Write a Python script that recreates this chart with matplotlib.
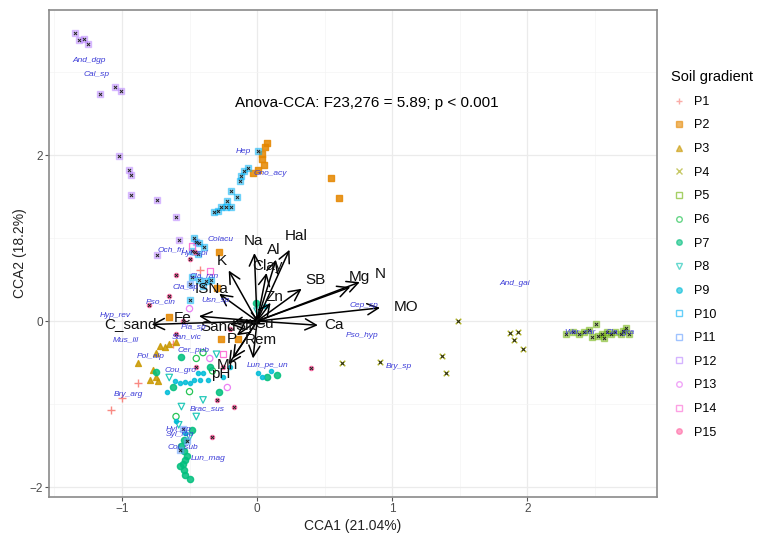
import matplotlib
matplotlib.use("Agg")
import matplotlib.pyplot as plt
from matplotlib.lines import Line2D

plt.rcParams["font.family"] = ["Liberation Sans", "DejaVu Sans"]

GROUPS = ["P1", "P2", "P3", "P4", "P5", "P6", "P7", "P8", "P9", "P10",
          "P11", "P12", "P13", "P14", "P15"]
COLORS = ["#F8766D", "#E58700", "#C99800", "#A3A500", "#6BB100", "#00BA38",
          "#00BF7D", "#00C0AF", "#00BCD8", "#00B0F6", "#619CFF", "#B983FF",
          "#E76BF3", "#FD61D1", "#FF67A4"]

# site scores (CCA1, CCA2) per soil gradient group
P1_x = [-1.08, -1.00, -0.88, -0.62, -0.42]
P1_y = [-1.07, -0.93, -0.75, -0.28, 0.62]
P2_x = [0.07, 0.06, 0.04, 0.04, 0.05, 0.01, -0.03, 0.55, 0.61, -0.30, -0.27, -0.14, -0.65, -0.28]
P2_y = [2.15, 2.10, 2.02, 1.95, 1.88, 1.82, 1.78, 1.72, 1.48, 0.40, -0.22, -0.22, 0.05, 0.83]
P3_x = [-0.68, -0.65, -0.75, -0.88, -0.77, -0.75, -0.73, -0.79, -0.72, -0.60]
P3_y = [-0.31, -0.28, -0.38, -0.50, -0.59, -0.67, -0.72, -0.71, -0.30, -0.25]
P4_x = [0.63, 0.91, 1.49, 1.37, 1.40, 1.87, 1.93, 1.90, 1.97]
P4_y = [-0.50, -0.49, 0.00, -0.42, -0.62, -0.14, -0.13, -0.23, -0.34]
P5_x = [2.29, 2.34, 2.46, 2.51, 2.48, 2.52, 2.55, 2.59, 2.57, 2.65, 2.69, 2.73,
        2.75, 2.71, 2.62, 2.42, 2.38]
P5_y = [-0.15, -0.13, -0.11, -0.04, -0.19, -0.18, -0.16, -0.13, -0.20, -0.13,
        -0.15, -0.08, -0.15, -0.12, -0.15, -0.13, -0.16]
P6_x = [-0.45, -0.40, -0.33, -0.50, -0.60]
P6_y = [-0.45, -0.38, -0.60, -0.85, -1.15]
P7_x = [-0.53, -0.54, -0.57, -0.53, -0.54, -0.56, -0.54, -0.48, -0.28, -0.56,
        -0.75, 0.07, 0.15, -0.52, -0.50, -0.55, -0.01, -0.35, -0.62]
P7_y = [-1.85, -1.80, -1.75, -1.67, -1.57, -1.50, -1.43, -1.31, -0.85, -0.43,
        -0.61, -0.67, -0.65, -1.62, -1.90, -1.72, 0.22, -0.55, -0.80]
P8_x = [-0.56, -0.45, -0.58, -0.30, -0.65, -0.40, -0.50, 0.00]
P8_y = [-1.03, -1.15, -1.25, -0.40, -0.68, -0.95, -1.40, 0.12]
P9_x = [-0.67, -0.61, -0.57, -0.53, -0.50, -0.47, -0.42, -0.36, -0.25, 0.01,
        0.04, -0.45, -0.44, -0.40, 0.06, -0.60, -0.53, -0.20, 0.10]
P9_y = [-0.85, -0.72, -0.74, -0.73, -0.74, -0.71, -0.71, -0.71, -0.67, -0.63,
        -0.67, 0.95, -0.62, -0.62, 0.18, -1.20, -1.35, -0.55, -0.60]
P10_x = [0.01, -0.07, -0.10, -0.12, -0.13, -0.19, -0.15, -0.22, -0.27, -0.29,
         -0.23, -0.19, -0.32, -0.47, -0.43, -0.39, -0.48, -0.44, -0.48, -0.43,
         -0.38, -0.34, -0.40, -0.50]
P10_y = [2.05, 1.84, 1.81, 1.75, 1.69, 1.57, 1.49, 1.45, 1.37, 1.33, 1.37, 1.37,
         1.31, 1.00, 0.94, 0.89, 0.85, 0.81, 0.53, 0.50, 0.48, 0.50, 0.42, 0.25]
P11_x = [-0.55, -0.52, -0.57, -0.45, -0.50]
P11_y = [-1.30, -1.45, -1.55, 0.95, 0.45]
P12_x = [-1.35, -1.32, -1.28, -1.25, -1.05, -1.01, -1.16, -1.02, -0.95, -0.93,
         -0.93, -0.74, -0.60, -0.58, -0.74]
P12_y = [3.47, 3.39, 3.40, 3.34, 2.82, 2.77, 2.74, 1.99, 1.82, 1.76, 1.52, 1.46,
         1.26, 0.98, 0.80]
P13_x = [-0.35, -0.22, -0.50]
P13_y = [-0.45, -0.80, 0.15]
P14_x = [-0.48, -0.35, -0.25]
P14_y = [0.90, 0.60, -0.40]
P15_x = [-0.46, -0.50, 0.40, -0.17, -0.33, -0.80, -0.60, -0.45, -0.30, -0.60,
         -0.65, -0.25, -0.55, -0.20]
P15_y = [0.83, 0.75, -0.56, -1.03, -1.40, 0.20, -0.15, -0.55, -0.95, 0.55,
         0.30, -0.55, 0.00, -0.10]

SITES_X = [P1_x, P2_x, P3_x, P4_x, P5_x, P6_x, P7_x, P8_x, P9_x, P10_x,
           P11_x, P12_x, P13_x, P14_x, P15_x]
SITES_Y = [P1_y, P2_y, P3_y, P4_y, P5_y, P6_y, P7_y, P8_y, P9_y, P10_y,
           P11_y, P12_y, P13_y, P14_y, P15_y]

# environmental vectors: arrow tips and label positions
ENV = ["Na", "Hal", "Al", "Clay", "K", "ISNa", "SB", "Mg", "N", "MO", "Ca",
       "Fe", "C_sand", "Sand", "Silt", "Cu", "Zn", "Rem", "P", "Mn", "pH"]
ENV_TIP_X = [-0.02, 0.24, 0.14, 0.07, -0.21, -0.28, 0.33, 0.69, 0.76, 0.91, 0.45,
             -0.43, -0.78, -0.20, -0.05, 0.03, 0.10, -0.03, -0.15, -0.18, -0.21]
ENV_TIP_Y = [0.82, 0.86, 0.74, 0.58, 0.61, 0.33, 0.39, 0.41, 0.47, 0.16, -0.05,
             0.06, -0.04, -0.04, -0.04, -0.02, 0.22, -0.45, -0.17, -0.45, -0.52]
ENV_LAB_X = [-0.03, 0.29, 0.12, 0.08, -0.26, -0.34, 0.43, 0.76, 0.91, 1.10, 0.57,
             -0.55, -0.94, -0.29, -0.08, 0.05, 0.13, 0.03, -0.19, -0.22, -0.27]
ENV_LAB_Y = [0.97, 1.02, 0.86, 0.67, 0.73, 0.39, 0.49, 0.53, 0.57, 0.17, -0.05,
             0.04, -0.04, -0.07, -0.06, -0.03, 0.29, -0.23, -0.21, -0.53, -0.64]

# species labels
SPECIES = ["And_dgp", "Cal_sp", "Hep", "Gno_acy", "Colacu", "Och_fri", "Hyl_spl",
           "Cla_ran", "Cla_sp", "Pso_cin", "Usn_sp", "Hyp_rev", "Cep_sp", "Pso_hyp",
           "Bry_sp", "And_gai", "War_sar", "Cla_gra", "Mus_lil", "San_vic",
           "Pla_sp", "Cer_pub", "Pol_alp", "Cou_gro", "Bry_arg", "Lun_pe_un",
           "Brac_sus", "Hyl_sp", "Syl_rup", "Col_sub", "Lun_mag"]
SP_X = [-1.24, -1.19, -0.10, 0.10, -0.27, -0.64, -0.46, -0.39, -0.53, -0.71,
        -0.31, -1.05, 0.79, 0.78, 1.05, 1.91, 2.39, 2.69, -0.97, -0.52, -0.47,
        -0.47, -0.79, -0.57, -0.95, 0.08, -0.37, -0.58, -0.57, -0.55, -0.36]
SP_Y = [3.14, 2.97, 2.05, 1.78, 0.98, 0.86, 0.82, 0.55, 0.41, 0.23, 0.25, 0.07,
        0.19, -0.17, -0.55, 0.45, -0.13, -0.14, -0.23, -0.19, -0.08, -0.35, -0.43,
        -0.60, -0.88, -0.54, -1.06, -1.31, -1.37, -1.51, -1.66]

STYLE = {
    "P1": dict(marker="+", filled=True, s=26),
    "P2": dict(marker="s", filled=True, s=16),
    "P3": dict(marker="^", filled=True, s=18),
    "P4": dict(marker="x", filled=True, s=16),
    "P5": dict(marker="s", filled="half", s=24),
    "P6": dict(marker="o", filled=False, s=20),
    "P7": dict(marker="o", filled=True, s=20),
    "P8": dict(marker="v", filled=False, s=22),
    "P9": dict(marker="o", filled=True, s=9),
    "P10": dict(marker="s", filled="half", s=24),
    "P11": dict(marker="s", filled="half", s=22),
    "P12": dict(marker="s", filled="half", s=20),
    "P13": dict(marker="o", filled=False, s=20),
    "P14": dict(marker="s", filled=False, s=20),
    "P15": dict(marker="o", filled=True, s=9),
}
DARK_CENTER = ["P4", "P5", "P10", "P11", "P12", "P15"]

fig = plt.figure(figsize=(7.66, 5.36), dpi=100)
ax = fig.add_axes([49 / 766, 39 / 536, 608 / 766, 487 / 536])

for g, col, xs, ys in zip(GROUPS, COLORS, SITES_X, SITES_Y):
    st = STYLE[g]
    if st["filled"] is True:
        ax.scatter(xs, ys, marker=st["marker"], s=st["s"], color=col, alpha=0.85,
                   linewidths=1.0, zorder=3)
    elif st["filled"] == "half":
        ax.scatter(xs, ys, marker=st["marker"], s=st["s"], facecolor=col,
                   edgecolor=col, alpha=0.45, linewidths=1.0, zorder=3)
    else:
        ax.scatter(xs, ys, marker=st["marker"], s=st["s"], facecolor="none",
                   edgecolor=col, alpha=0.85, linewidths=0.9, zorder=3)
    if g in DARK_CENTER:
        ax.scatter(xs, ys, marker="x", s=5, color="#222222", linewidths=0.7, zorder=4)

for tx, ty in zip(ENV_TIP_X, ENV_TIP_Y):
    ax.annotate("", xy=(tx, ty), xytext=(0, 0),
                arrowprops=dict(arrowstyle="->,head_length=0.8,head_width=0.4",
                                color="black", lw=1.1, shrinkA=0, shrinkB=0),
                zorder=5)
for name, lx, ly in zip(ENV, ENV_LAB_X, ENV_LAB_Y):
    ax.text(lx, ly, name, fontsize=11, ha="center", va="center", color="#111111",
            zorder=6)

for name, sx, sy in zip(SPECIES, SP_X, SP_Y):
    ax.text(sx, sy, name, fontsize=6, style="italic", ha="center", va="center",
            color="#3c3cd8", zorder=6)

ax.text(0.81, 2.63, "Anova-CCA: F23,276 = 5.89; p < 0.001", fontsize=11,
        ha="center", va="center", color="black")

ax.set_xlim(-1.54, 2.96)
ax.set_ylim(-2.12, 3.75)
ax.set_xticks([-1, 0, 1, 2])
ax.set_yticks([-2, 0, 2])
ax.set_xticks([-1.5, -0.5, 0.5, 1.5, 2.5], minor=True)
ax.set_yticks([-1, 1, 3], minor=True)
ax.grid(True, which="major", color="#ebebeb", lw=0.9, zorder=0)
ax.grid(True, which="minor", color="#f4f4f4", lw=0.5, zorder=0)
ax.set_axisbelow(True)
ax.tick_params(which="major", length=3, color="#555555", labelsize=8.5,
               labelcolor="#4d4d4d", pad=1.5)
ax.tick_params(which="minor", length=0)
for sp in ax.spines.values():
    sp.set_color("#8a8a8a")
    sp.set_linewidth(1.2)
ax.set_xlabel("CCA1 (21.04%)", fontsize=10, color="#222222", labelpad=3)
ax.set_ylabel("CCA2 (18.2%)", fontsize=10, color="#222222", labelpad=2)

handles = []
for g, col in zip(GROUPS, COLORS):
    st = STYLE[g]
    if st["filled"] is True:
        h = Line2D([], [], ls="none", marker=st["marker"], markersize=4,
                   color=col, alpha=0.6)
    else:
        h = Line2D([], [], ls="none", marker=st["marker"], markersize=4,
                   markerfacecolor="none", markeredgecolor=col, alpha=0.6)
    handles.append(h)
leg = fig.legend(handles, GROUPS, title="Soil gradient", loc="upper left",
                 bbox_to_anchor=(660 / 766, 1 - 59 / 536), frameon=False,
                 fontsize=9, title_fontsize=10.5, labelspacing=0.93,
                 handlelength=1.2, handletextpad=0.6, alignment="left")

fig.savefig("out.png", dpi=100, facecolor="white")
